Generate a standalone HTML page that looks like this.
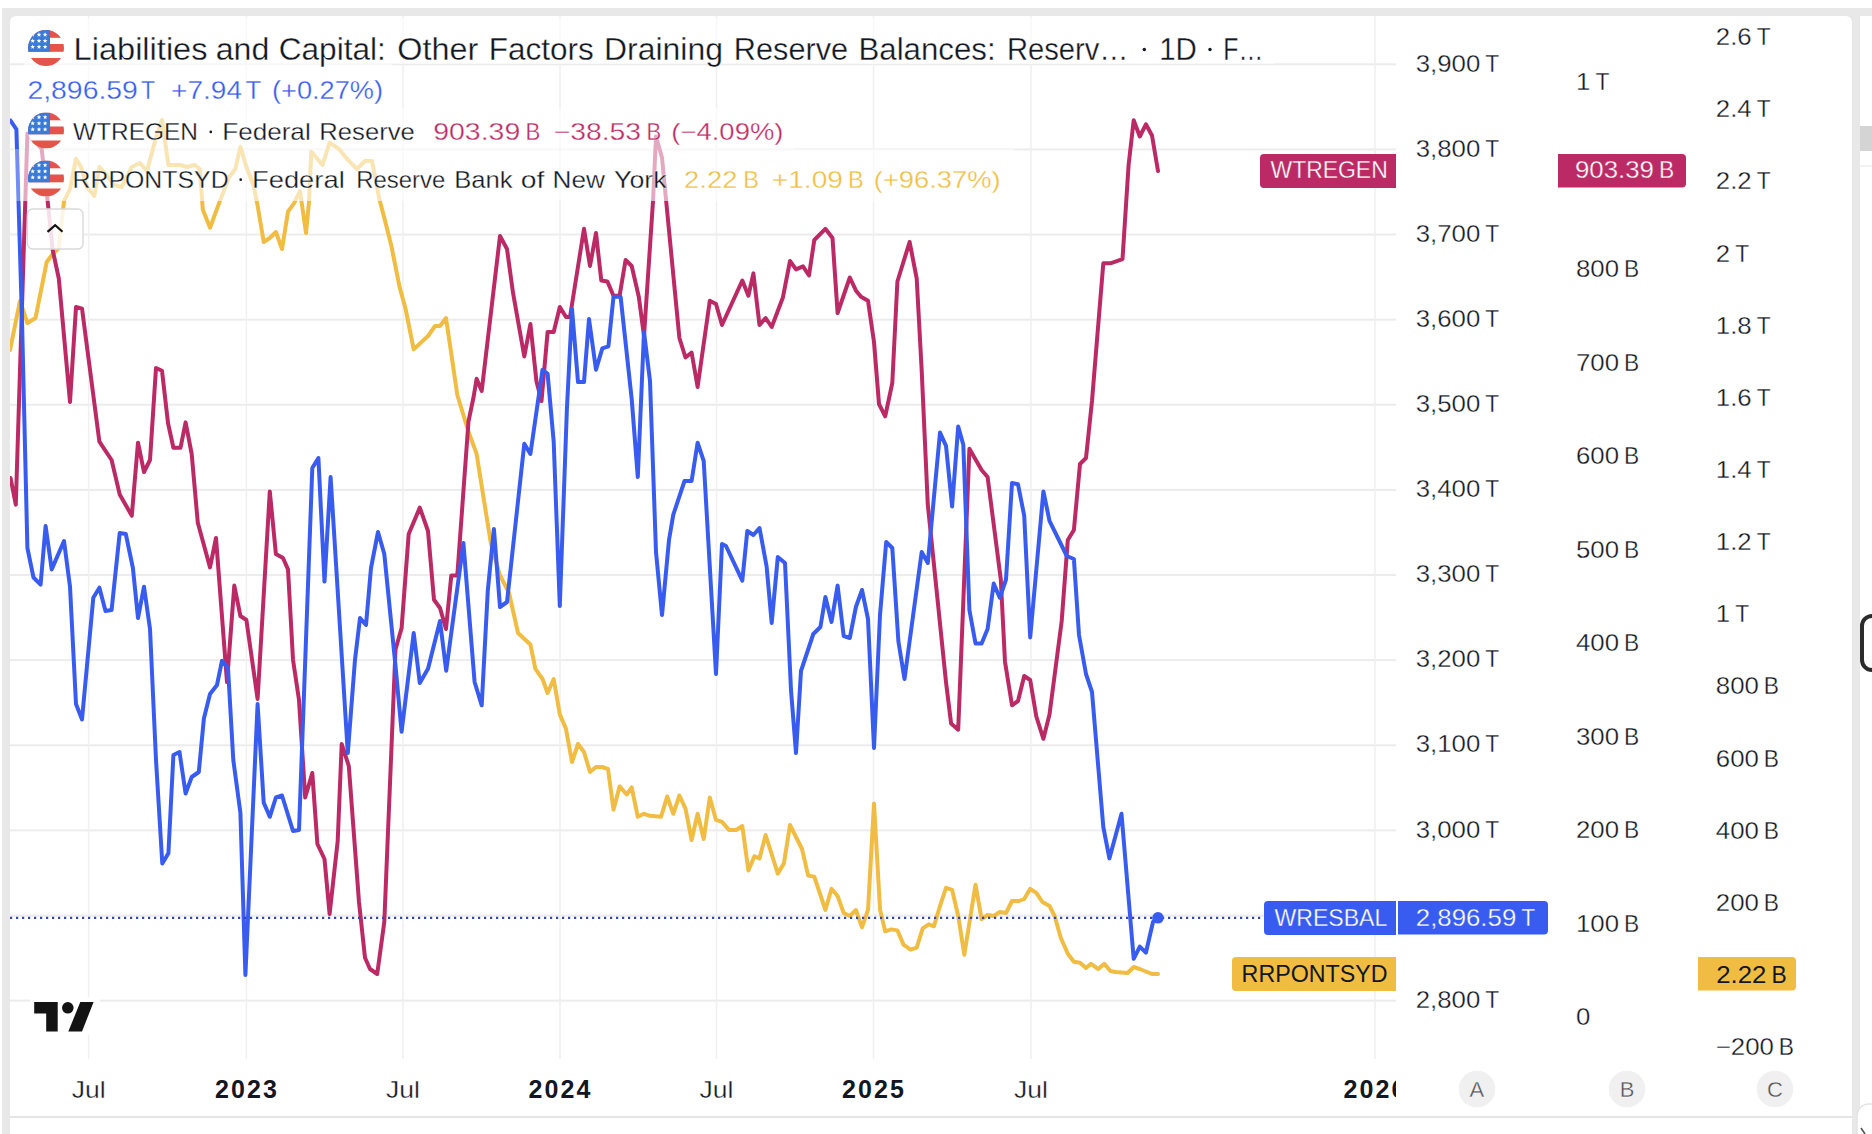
<!DOCTYPE html><html><head><meta charset="utf-8"><title>chart</title><style>html,body{margin:0;padding:0;background:#fff;overflow:hidden}svg{display:block}text{font-family:"Liberation Sans",sans-serif;white-space:pre}</style></head><body>
<svg width="1872" height="1134" viewBox="0 0 1872 1134">
<defs><clipPath id="pane"><rect x="10" y="16" width="1386" height="1043"/></clipPath><clipPath id="flagc"><circle cx="0" cy="0" r="18"/></clipPath><clipPath id="tclip"><rect x="10" y="1060" width="1386" height="56"/></clipPath></defs>
<rect x="0" y="0" width="1872" height="1134" fill="#fff"/>
<rect x="2" y="8" width="1858" height="1126" fill="#e8e8e8"/>
<rect x="10" y="16" width="1842" height="1130" rx="6" ry="6" fill="#fff"/>
<rect x="10" y="1116" width="1842" height="2" fill="#e6e6e6"/>
<rect x="1852" y="8" width="20" height="8" fill="#e8e8e8"/>
<rect x="1860" y="16" width="30" height="1130" rx="6" ry="6" fill="#fff"/>
<rect x="1860" y="126" width="12" height="25" fill="#d4d4d4"/>
<rect x="1860" y="165.5" width="12" height="1" fill="#e6e6e6"/>
<rect x="1862" y="616" width="24" height="54" rx="10" ry="10" fill="none" stroke="#2b2b2b" stroke-width="4"/>
<rect x="1857" y="1104" width="30" height="40" rx="12" ry="12" fill="#fff" stroke="#e4e4e4" stroke-width="1.5"/>
<line x1="1861" y1="1128" x2="1865" y2="1134" stroke="#555" stroke-width="1.6"/>
<rect x="10" y="63.30" width="1386" height="2" fill="#ececec"/>
<rect x="10" y="148.42" width="1386" height="2" fill="#ececec"/>
<rect x="10" y="233.54" width="1386" height="2" fill="#ececec"/>
<rect x="10" y="318.66" width="1386" height="2" fill="#ececec"/>
<rect x="10" y="403.78" width="1386" height="2" fill="#ececec"/>
<rect x="10" y="488.90" width="1386" height="2" fill="#ececec"/>
<rect x="10" y="574.02" width="1386" height="2" fill="#ececec"/>
<rect x="10" y="659.14" width="1386" height="2" fill="#ececec"/>
<rect x="10" y="744.26" width="1386" height="2" fill="#ececec"/>
<rect x="10" y="829.38" width="1386" height="2" fill="#ececec"/>
<rect x="10" y="914.50" width="1386" height="2" fill="#ececec"/>
<rect x="10" y="999.62" width="1386" height="2" fill="#ececec"/>
<rect x="87.85" y="16" width="1.5" height="1043" fill="#f0f0f0"/>
<rect x="245.65" y="16" width="1.5" height="1043" fill="#f0f0f0"/>
<rect x="402.25" y="16" width="1.5" height="1043" fill="#f0f0f0"/>
<rect x="559.25" y="16" width="1.5" height="1043" fill="#f0f0f0"/>
<rect x="715.75" y="16" width="1.5" height="1043" fill="#f0f0f0"/>
<rect x="872.75" y="16" width="1.5" height="1043" fill="#f0f0f0"/>
<rect x="1030.25" y="16" width="1.5" height="1043" fill="#f0f0f0"/>
<rect x="1374.25" y="16" width="1.5" height="1043" fill="#f0f0f0"/>
<g clip-path="url(#pane)" fill="none" stroke-width="4" stroke-linejoin="round" stroke-linecap="round">
<polyline points="10.0,350.0 20.0,301.0 27.4,323.0 35.5,318.0 46.7,262.0 52.7,254.0 58.8,248.0 64.0,201.4 70.0,189.0 76.0,158.8 81.0,167.0 87.0,187.0 94.3,196.0 99.4,167.0 107.5,176.0 113.6,185.0 121.7,187.0 131.8,167.0 140.0,163.0 147.0,171.0 156.0,137.5 162.0,120.0 168.4,165.0 174.4,165.0 180.5,165.0 186.6,167.0 194.7,165.0 199.8,169.0 202.8,209.5 210.0,227.8 219.0,203.4 229.2,177.0 235.3,169.0 240.4,146.7 246.4,167.0 253.5,185.0 257.6,205.5 263.7,242.0 269.8,238.0 275.9,232.0 282.0,249.0 288.0,211.6 294.0,203.4 300.0,191.0 306.0,233.0 309.0,202.0 311.3,151.7 322.5,165.0 329.6,142.6 338.7,148.7 348.8,160.9 357.0,169.0 365.0,160.9 372.0,160.9 379.0,197.4 385.3,221.7 391.4,246.0 399.5,286.6 405.6,309.0 413.7,349.4 428.0,336.0 435.0,326.0 440.0,326.0 446.0,318.0 452.3,360.6 457.3,395.0 468.5,431.6 476.6,453.9 482.7,492.4 490.8,543.0 500.0,575.5 509.0,592.7 518.0,633.0 530.4,644.5 535.4,668.8 542.5,679.0 547.6,693.0 553.7,679.0 559.8,714.4 565.9,728.6 572.0,762.0 578.0,744.0 584.0,752.0 590.0,772.0 596.0,767.0 602.0,767.0 608.0,769.0 613.5,809.7 619.6,786.4 626.7,794.5 631.7,787.4 637.8,816.8 643.9,813.8 650.0,815.8 661.0,816.8 667.2,796.5 673.3,813.8 679.4,795.5 685.5,808.7 691.6,840.0 697.6,813.8 703.7,839.0 709.8,797.5 715.9,819.8 722.0,821.9 729.0,830.0 736.2,830.0 742.3,826.0 748.4,870.5 754.4,856.3 759.5,858.4 765.6,835.0 777.8,873.6 783.9,863.4 790.0,825.0 802.0,849.0 808.2,875.6 814.3,876.6 825.4,910.0 831.5,888.8 837.6,896.0 843.7,913.0 849.8,916.0 855.9,910.0 862.0,927.3 868.0,910.0 874.0,803.6 880.1,910.0 885.2,931.4 891.3,929.4 897.4,930.4 903.5,944.6 910.6,949.7 916.7,947.6 922.7,928.4 928.8,924.3 933.9,926.3 940.0,906.0 946.0,887.8 952.1,889.8 958.2,916.0 964.3,954.7 975.5,884.7 981.6,919.2 987.6,915.0 993.7,916.0 999.8,912.0 1006.0,913.0 1012.0,901.0 1019.0,901.0 1024.2,899.0 1030.2,888.8 1036.3,892.9 1042.4,902.0 1049.5,906.0 1054.6,916.0 1060.7,937.5 1067.8,953.7 1073.9,961.8 1080.0,962.8 1086.0,968.0 1091.0,963.9 1098.2,969.0 1104.3,963.9 1110.4,971.0 1115.4,972.0 1127.6,973.0 1133.7,967.0 1139.8,969.0 1152.0,974.0 1158.0,974.0" stroke="#f0bd42"/>
<polyline points="10.5,478.0 15.8,504.6 27.4,133.5 41.6,148.7 47.7,201.4 52.7,250.0 58.8,278.5 70.0,402.0 76.0,307.0 82.0,308.6 99.4,441.7 111.6,460.0 119.7,494.4 131.8,515.7 138.0,442.7 144.0,472.0 150.0,460.0 156.0,368.0 162.0,370.7 168.0,423.0 173.4,447.8 180.5,447.8 185.6,422.4 191.7,454.0 197.8,522.8 210.0,567.4 216.0,538.0 227.0,682.0 234.3,585.6 240.4,616.0 246.4,620.0 257.6,699.0 269.8,491.4 275.9,554.0 283.0,558.0 288.0,569.4 293.0,659.7 299.0,700.0 305.2,797.5 312.3,773.0 317.4,844.0 324.5,859.0 329.6,914.0 337.7,841.0 341.7,744.0 348.8,766.0 359.0,902.0 365.0,957.8 370.0,969.0 377.2,974.0 384.3,922.0 395.5,649.5 401.6,628.0 408.7,534.0 419.8,507.6 428.0,531.0 434.0,599.8 440.0,608.0 446.0,629.0 451.3,575.5 457.3,575.5 468.5,421.4 473.6,397.0 476.6,378.8 481.7,391.0 500.0,236.0 507.0,249.0 513.0,292.7 524.3,356.5 530.4,324.0 536.4,381.0 541.5,401.0 547.6,332.0 553.7,332.0 559.8,307.0 566.0,317.0 570.0,317.0 584.0,228.8 590.0,266.0 596.0,233.0 601.3,280.5 607.4,281.5 613.5,295.7 619.6,295.7 625.6,260.0 631.7,266.0 638.8,296.8 644.0,336.0 653.0,201.4 656.0,136.5 662.0,157.8 666.2,201.4 679.4,338.0 685.5,357.5 691.6,352.5 697.6,387.0 709.8,300.8 716.0,304.0 722.0,325.0 742.3,280.5 748.4,295.7 753.4,273.4 759.5,325.0 765.6,318.0 771.7,327.0 782.8,297.8 790.0,261.0 796.0,269.4 803.0,266.3 809.0,275.5 814.3,240.0 825.4,228.8 832.5,238.0 837.6,313.0 849.8,277.5 856.0,290.7 861.0,296.8 868.0,300.8 874.0,342.0 879.0,404.0 885.2,416.3 892.3,383.0 897.4,281.5 909.6,242.0 916.7,278.5 921.7,370.7 927.8,504.6 946.0,682.0 951.1,723.6 958.2,729.7 969.4,448.8 981.6,470.0 987.6,477.0 1000.8,579.5 1005.0,661.7 1012.0,705.3 1018.0,701.0 1024.2,676.0 1030.2,680.0 1036.3,716.5 1043.4,738.8 1049.5,714.4 1061.7,621.0 1067.8,540.0 1073.9,530.0 1080.0,464.0 1086.0,458.0 1092.0,401.0 1103.3,263.3 1110.4,263.3 1122.5,259.2 1128.6,165.0 1133.7,120.3 1139.8,136.5 1145.9,124.3 1152.0,135.5 1158.0,171.0" stroke="#bc2a65"/>
<polyline points="10.5,120.5 16.4,129.4 22.0,320.0 27.4,548.0 33.5,577.5 40.6,584.6 45.6,526.0 51.7,569.4 64.0,541.0 70.0,586.7 76.0,704.0 82.0,719.5 93.3,597.8 99.4,587.7 105.5,611.0 111.6,610.0 119.7,533.0 125.8,534.0 132.9,568.0 138.0,618.0 144.0,586.7 150.0,629.0 156.0,760.0 162.3,863.5 168.4,853.3 173.4,755.0 179.5,752.0 185.6,793.5 191.7,777.0 198.8,772.0 203.9,718.5 210.0,694.0 217.0,685.0 222.0,660.7 228.0,667.8 233.3,760.0 240.4,812.7 245.4,975.0 257.6,704.0 263.7,802.6 269.8,816.8 275.9,797.5 282.0,795.5 293.0,831.0 299.0,830.0 312.3,468.0 318.4,458.0 324.5,581.6 330.6,477.0 347.8,753.0 355.0,659.7 360.0,618.0 366.0,625.0 371.0,568.0 378.0,532.0 384.3,554.0 395.5,665.8 401.6,731.7 413.7,633.0 419.8,683.0 428.0,668.8 440.0,621.0 446.2,670.8 463.4,543.0 474.6,682.0 481.7,705.3 487.8,590.7 493.9,529.0 500.0,607.0 507.0,602.0 524.3,443.7 530.4,454.0 542.5,369.7 547.6,373.8 553.7,441.7 559.8,606.0 566.9,409.0 572.0,309.0 578.0,382.0 584.0,382.0 589.0,319.0 596.0,369.7 602.3,348.4 608.4,346.4 613.5,296.8 620.6,296.8 631.7,399.0 637.8,477.0 644.0,332.0 650.0,381.0 656.0,552.0 662.0,615.0 669.0,540.0 673.3,514.7 684.5,481.0 691.6,481.0 697.6,442.7 703.7,461.0 716.0,674.0 722.0,544.0 726.0,546.0 742.3,580.6 747.3,531.0 753.4,535.0 759.5,528.0 766.6,566.4 771.7,623.0 777.8,557.0 785.0,563.0 791.0,690.0 796.0,753.0 801.0,671.0 813.3,634.0 820.4,627.0 825.4,597.0 831.5,622.0 837.6,585.6 843.7,636.0 849.8,638.0 855.9,607.0 862.0,590.0 868.0,619.0 874.0,748.0 880.0,615.0 886.2,542.0 892.3,548.0 898.4,641.4 904.5,679.0 921.7,552.0 927.8,563.0 940.0,432.6 946.0,445.8 952.1,506.6 958.2,426.5 963.3,444.7 969.4,610.0 975.5,643.4 981.6,643.4 987.6,629.0 993.7,583.6 999.8,597.8 1006.0,579.5 1012.0,483.0 1018.0,484.3 1024.2,515.7 1030.2,637.4 1043.4,491.4 1049.5,520.8 1066.8,556.0 1073.9,559.0 1079.0,635.0 1086.0,674.0 1092.0,692.0 1103.3,827.0 1109.4,858.4 1121.5,813.8 1133.7,958.8 1139.8,946.6 1145.9,952.7 1153.0,922.0 1158.0,917.0" stroke="#385cf0"/>
</g>
<line x1="10" y1="917.8" x2="1264" y2="917.8" stroke="#2f45b8" stroke-width="2.2" stroke-dasharray="2.2 3.8"/>
<circle cx="1158" cy="917.8" r="5.8" fill="#385cf0"/>
<rect x="24" y="18" width="1250" height="46" fill="#fff" fill-opacity="0.6"/>
<rect x="24" y="64" width="368" height="44" fill="#fff" fill-opacity="0.6"/>
<rect x="20" y="108" width="774" height="41" fill="#fff" fill-opacity="0.6"/>
<rect x="10" y="149" width="10" height="52" fill="#fff" fill-opacity="0.3"/><rect x="20" y="149" width="994" height="52" fill="#fff" fill-opacity="0.6"/>
<g transform="translate(46,48)"><g clip-path="url(#flagc)"><rect x="-18" y="-18" width="36" height="36" fill="#fff"/><rect x="-18" y="-18" width="36" height="7.8" fill="#e5534b"/><rect x="-18" y="-4" width="36" height="7.8" fill="#e5534b"/><rect x="-18" y="10" width="36" height="8.0" fill="#e5534b"/><rect x="-18" y="-18" width="22" height="21.8" fill="#3a7ad9"/><polygon points="-13.30,-15.70 -12.67,-14.17 -11.02,-14.04 -12.27,-12.97 -11.89,-11.36 -13.30,-12.22 -14.71,-11.36 -14.33,-12.97 -15.58,-14.04 -13.93,-14.17" fill="#fff"/><polygon points="-7.00,-15.70 -6.37,-14.17 -4.72,-14.04 -5.97,-12.97 -5.59,-11.36 -7.00,-12.22 -8.41,-11.36 -8.03,-12.97 -9.28,-14.04 -7.63,-14.17" fill="#fff"/><polygon points="-0.90,-15.70 -0.27,-14.17 1.38,-14.04 0.13,-12.97 0.51,-11.36 -0.90,-12.22 -2.31,-11.36 -1.93,-12.97 -3.18,-14.04 -1.53,-14.17" fill="#fff"/><polygon points="-13.30,-9.60 -12.67,-8.07 -11.02,-7.94 -12.27,-6.87 -11.89,-5.26 -13.30,-6.12 -14.71,-5.26 -14.33,-6.87 -15.58,-7.94 -13.93,-8.07" fill="#fff"/><polygon points="-7.00,-9.60 -6.37,-8.07 -4.72,-7.94 -5.97,-6.87 -5.59,-5.26 -7.00,-6.12 -8.41,-5.26 -8.03,-6.87 -9.28,-7.94 -7.63,-8.07" fill="#fff"/><polygon points="-0.90,-9.60 -0.27,-8.07 1.38,-7.94 0.13,-6.87 0.51,-5.26 -0.90,-6.12 -2.31,-5.26 -1.93,-6.87 -3.18,-7.94 -1.53,-8.07" fill="#fff"/><polygon points="-13.30,-3.50 -12.67,-1.97 -11.02,-1.84 -12.27,-0.77 -11.89,0.84 -13.30,-0.02 -14.71,0.84 -14.33,-0.77 -15.58,-1.84 -13.93,-1.97" fill="#fff"/><polygon points="-7.00,-3.50 -6.37,-1.97 -4.72,-1.84 -5.97,-0.77 -5.59,0.84 -7.00,-0.02 -8.41,0.84 -8.03,-0.77 -9.28,-1.84 -7.63,-1.97" fill="#fff"/><polygon points="-0.90,-3.50 -0.27,-1.97 1.38,-1.84 0.13,-0.77 0.51,0.84 -0.90,-0.02 -2.31,0.84 -1.93,-0.77 -3.18,-1.84 -1.53,-1.97" fill="#fff"/></g></g>
<g transform="translate(46,130.5)"><g clip-path="url(#flagc)"><rect x="-18" y="-18" width="36" height="36" fill="#fff"/><rect x="-18" y="-18" width="36" height="7.8" fill="#e5534b"/><rect x="-18" y="-4" width="36" height="7.8" fill="#e5534b"/><rect x="-18" y="10" width="36" height="8.0" fill="#e5534b"/><rect x="-18" y="-18" width="22" height="21.8" fill="#3a7ad9"/><polygon points="-13.30,-15.70 -12.67,-14.17 -11.02,-14.04 -12.27,-12.97 -11.89,-11.36 -13.30,-12.22 -14.71,-11.36 -14.33,-12.97 -15.58,-14.04 -13.93,-14.17" fill="#fff"/><polygon points="-7.00,-15.70 -6.37,-14.17 -4.72,-14.04 -5.97,-12.97 -5.59,-11.36 -7.00,-12.22 -8.41,-11.36 -8.03,-12.97 -9.28,-14.04 -7.63,-14.17" fill="#fff"/><polygon points="-0.90,-15.70 -0.27,-14.17 1.38,-14.04 0.13,-12.97 0.51,-11.36 -0.90,-12.22 -2.31,-11.36 -1.93,-12.97 -3.18,-14.04 -1.53,-14.17" fill="#fff"/><polygon points="-13.30,-9.60 -12.67,-8.07 -11.02,-7.94 -12.27,-6.87 -11.89,-5.26 -13.30,-6.12 -14.71,-5.26 -14.33,-6.87 -15.58,-7.94 -13.93,-8.07" fill="#fff"/><polygon points="-7.00,-9.60 -6.37,-8.07 -4.72,-7.94 -5.97,-6.87 -5.59,-5.26 -7.00,-6.12 -8.41,-5.26 -8.03,-6.87 -9.28,-7.94 -7.63,-8.07" fill="#fff"/><polygon points="-0.90,-9.60 -0.27,-8.07 1.38,-7.94 0.13,-6.87 0.51,-5.26 -0.90,-6.12 -2.31,-5.26 -1.93,-6.87 -3.18,-7.94 -1.53,-8.07" fill="#fff"/><polygon points="-13.30,-3.50 -12.67,-1.97 -11.02,-1.84 -12.27,-0.77 -11.89,0.84 -13.30,-0.02 -14.71,0.84 -14.33,-0.77 -15.58,-1.84 -13.93,-1.97" fill="#fff"/><polygon points="-7.00,-3.50 -6.37,-1.97 -4.72,-1.84 -5.97,-0.77 -5.59,0.84 -7.00,-0.02 -8.41,0.84 -8.03,-0.77 -9.28,-1.84 -7.63,-1.97" fill="#fff"/><polygon points="-0.90,-3.50 -0.27,-1.97 1.38,-1.84 0.13,-0.77 0.51,0.84 -0.90,-0.02 -2.31,0.84 -1.93,-0.77 -3.18,-1.84 -1.53,-1.97" fill="#fff"/></g></g>
<g transform="translate(46,178.5)"><g clip-path="url(#flagc)"><rect x="-18" y="-18" width="36" height="36" fill="#fff"/><rect x="-18" y="-18" width="36" height="7.8" fill="#e5534b"/><rect x="-18" y="-4" width="36" height="7.8" fill="#e5534b"/><rect x="-18" y="10" width="36" height="8.0" fill="#e5534b"/><rect x="-18" y="-18" width="22" height="21.8" fill="#3a7ad9"/><polygon points="-13.30,-15.70 -12.67,-14.17 -11.02,-14.04 -12.27,-12.97 -11.89,-11.36 -13.30,-12.22 -14.71,-11.36 -14.33,-12.97 -15.58,-14.04 -13.93,-14.17" fill="#fff"/><polygon points="-7.00,-15.70 -6.37,-14.17 -4.72,-14.04 -5.97,-12.97 -5.59,-11.36 -7.00,-12.22 -8.41,-11.36 -8.03,-12.97 -9.28,-14.04 -7.63,-14.17" fill="#fff"/><polygon points="-0.90,-15.70 -0.27,-14.17 1.38,-14.04 0.13,-12.97 0.51,-11.36 -0.90,-12.22 -2.31,-11.36 -1.93,-12.97 -3.18,-14.04 -1.53,-14.17" fill="#fff"/><polygon points="-13.30,-9.60 -12.67,-8.07 -11.02,-7.94 -12.27,-6.87 -11.89,-5.26 -13.30,-6.12 -14.71,-5.26 -14.33,-6.87 -15.58,-7.94 -13.93,-8.07" fill="#fff"/><polygon points="-7.00,-9.60 -6.37,-8.07 -4.72,-7.94 -5.97,-6.87 -5.59,-5.26 -7.00,-6.12 -8.41,-5.26 -8.03,-6.87 -9.28,-7.94 -7.63,-8.07" fill="#fff"/><polygon points="-0.90,-9.60 -0.27,-8.07 1.38,-7.94 0.13,-6.87 0.51,-5.26 -0.90,-6.12 -2.31,-5.26 -1.93,-6.87 -3.18,-7.94 -1.53,-8.07" fill="#fff"/><polygon points="-13.30,-3.50 -12.67,-1.97 -11.02,-1.84 -12.27,-0.77 -11.89,0.84 -13.30,-0.02 -14.71,0.84 -14.33,-0.77 -15.58,-1.84 -13.93,-1.97" fill="#fff"/><polygon points="-7.00,-3.50 -6.37,-1.97 -4.72,-1.84 -5.97,-0.77 -5.59,0.84 -7.00,-0.02 -8.41,0.84 -8.03,-0.77 -9.28,-1.84 -7.63,-1.97" fill="#fff"/><polygon points="-0.90,-3.50 -0.27,-1.97 1.38,-1.84 0.13,-0.77 0.51,0.84 -0.90,-0.02 -2.31,0.84 -1.93,-0.77 -3.18,-1.84 -1.53,-1.97" fill="#fff"/></g></g>
<text x="73.60" y="59.70" font-size="31" fill="#131722" stroke="#fff" stroke-width="0.3" textLength="133.91" lengthAdjust="spacingAndGlyphs">Liabilities</text><text x="215.70" y="59.70" font-size="31" fill="#131722" stroke="#fff" stroke-width="0.3" textLength="53.67" lengthAdjust="spacingAndGlyphs">and</text><text x="278.70" y="59.70" font-size="31" fill="#131722" stroke="#fff" stroke-width="0.3" textLength="107.18" lengthAdjust="spacingAndGlyphs">Capital:</text><text x="397.30" y="59.70" font-size="31" fill="#131722" stroke="#fff" stroke-width="0.3" textLength="81.03" lengthAdjust="spacingAndGlyphs">Other</text><text x="488.70" y="59.70" font-size="31" fill="#131722" stroke="#fff" stroke-width="0.3" textLength="104.98" lengthAdjust="spacingAndGlyphs">Factors</text><text x="604.00" y="59.70" font-size="31" fill="#131722" stroke="#fff" stroke-width="0.3" textLength="118.94" lengthAdjust="spacingAndGlyphs">Draining</text><text x="733.80" y="59.70" font-size="31" fill="#131722" stroke="#fff" stroke-width="0.3" textLength="114.36" lengthAdjust="spacingAndGlyphs">Reserve</text><text x="858.50" y="59.70" font-size="31" fill="#131722" stroke="#fff" stroke-width="0.3" textLength="137.11" lengthAdjust="spacingAndGlyphs">Balances:</text><text x="1007.00" y="59.70" font-size="31" fill="#131722" stroke="#fff" stroke-width="0.3" textLength="121.54" lengthAdjust="spacingAndGlyphs">Reserv…</text><circle cx="1144.30" cy="49.47" r="1.71" fill="#131722"/><text x="1159.20" y="59.70" font-size="31" fill="#131722" stroke="#fff" stroke-width="0.3" textLength="37.70" lengthAdjust="spacingAndGlyphs">1D</text><circle cx="1210.00" cy="49.47" r="1.71" fill="#131722"/><text x="1223.30" y="59.70" font-size="31" fill="#131722" stroke="#fff" stroke-width="0.3" textLength="39.95" lengthAdjust="spacingAndGlyphs">F…</text>
<text x="27.40" y="98.70" font-size="25" fill="#385cf0" stroke="#fff" stroke-width="0.3" textLength="110.53" lengthAdjust="spacingAndGlyphs">2,896.59</text><text x="141.10" y="98.70" font-size="25" fill="#385cf0" stroke="#fff" stroke-width="0.3" textLength="14.02" lengthAdjust="spacingAndGlyphs">T</text><text x="171.10" y="98.70" font-size="25" fill="#385cf0" stroke="#fff" stroke-width="0.3" textLength="70.91" lengthAdjust="spacingAndGlyphs">+7.94</text><text x="245.60" y="98.70" font-size="25" fill="#385cf0" stroke="#fff" stroke-width="0.3" textLength="15.72" lengthAdjust="spacingAndGlyphs">T</text><text x="272.00" y="98.70" font-size="25" fill="#385cf0" stroke="#fff" stroke-width="0.3" textLength="111.11" lengthAdjust="spacingAndGlyphs">(+0.27%)</text>
<text x="73.10" y="139.80" font-size="24" fill="#131722" stroke="#fff" stroke-width="0.3" textLength="124.94" lengthAdjust="spacingAndGlyphs">WTREGEN</text><circle cx="210.80" cy="131.88" r="1.32" fill="#131722"/><text x="222.20" y="139.80" font-size="24" fill="#131722" stroke="#fff" stroke-width="0.3" textLength="88.50" lengthAdjust="spacingAndGlyphs">Federal</text><text x="319.30" y="139.80" font-size="24" fill="#131722" stroke="#fff" stroke-width="0.3" textLength="95.59" lengthAdjust="spacingAndGlyphs">Reserve</text>
<text x="433.20" y="139.80" font-size="24" fill="#bc2a65" stroke="#fff" stroke-width="0.3" textLength="87.04" lengthAdjust="spacingAndGlyphs">903.39</text><text x="525.50" y="139.80" font-size="24" fill="#bc2a65" stroke="#fff" stroke-width="0.3" textLength="14.81" lengthAdjust="spacingAndGlyphs">B</text><text x="553.70" y="139.80" font-size="24" fill="#bc2a65" stroke="#fff" stroke-width="0.3" textLength="87.34" lengthAdjust="spacingAndGlyphs">−38.53</text><text x="646.60" y="139.80" font-size="24" fill="#bc2a65" stroke="#fff" stroke-width="0.3" textLength="14.71" lengthAdjust="spacingAndGlyphs">B</text><text x="671.30" y="139.80" font-size="24" fill="#bc2a65" stroke="#fff" stroke-width="0.3" textLength="112.16" lengthAdjust="spacingAndGlyphs">(−4.09%)</text>
<text x="72.50" y="187.60" font-size="24" fill="#131722" stroke="#fff" stroke-width="0.3" textLength="156.16" lengthAdjust="spacingAndGlyphs">RRPONTSYD</text><circle cx="240.70" cy="179.68" r="1.32" fill="#131722"/><text x="252.00" y="187.60" font-size="24" fill="#131722" stroke="#fff" stroke-width="0.3" textLength="92.70" lengthAdjust="spacingAndGlyphs">Federal</text><text x="356.20" y="187.60" font-size="24" fill="#131722" stroke="#fff" stroke-width="0.3" textLength="89.09" lengthAdjust="spacingAndGlyphs">Reserve</text><text x="454.20" y="187.60" font-size="24" fill="#131722" stroke="#fff" stroke-width="0.3" textLength="58.42" lengthAdjust="spacingAndGlyphs">Bank</text><text x="520.80" y="187.60" font-size="24" fill="#131722" stroke="#fff" stroke-width="0.3" textLength="23.57" lengthAdjust="spacingAndGlyphs">of</text><text x="552.50" y="187.60" font-size="24" fill="#131722" stroke="#fff" stroke-width="0.3" textLength="52.48" lengthAdjust="spacingAndGlyphs">New</text><text x="614.00" y="187.60" font-size="24" fill="#131722" stroke="#fff" stroke-width="0.3" textLength="52.58" lengthAdjust="spacingAndGlyphs">York</text>
<text x="684.10" y="187.60" font-size="24" fill="#f0bd42" stroke="#fff" stroke-width="0.3" textLength="53.26" lengthAdjust="spacingAndGlyphs">2.22</text><text x="743.20" y="187.60" font-size="24" fill="#f0bd42" stroke="#fff" stroke-width="0.3" textLength="15.71" lengthAdjust="spacingAndGlyphs">B</text><text x="771.80" y="187.60" font-size="24" fill="#f0bd42" stroke="#fff" stroke-width="0.3" textLength="71.17" lengthAdjust="spacingAndGlyphs">+1.09</text><text x="847.90" y="187.60" font-size="24" fill="#f0bd42" stroke="#fff" stroke-width="0.3" textLength="15.71" lengthAdjust="spacingAndGlyphs">B</text><text x="873.80" y="187.60" font-size="24" fill="#f0bd42" stroke="#fff" stroke-width="0.3" textLength="126.73" lengthAdjust="spacingAndGlyphs">(+96.37%)</text>
<rect x="27.5" y="209" width="55.5" height="40" rx="5" ry="5" fill="#fff" fill-opacity="0.85" stroke="#d9d9d9" stroke-width="1.4"/>
<polyline points="47.5,231.8 55.2,225.2 62.5,231.8" fill="none" stroke="#131313" stroke-width="2.2"/>
<rect x="30" y="997" width="70" height="38" fill="#fff"/>
<path d="M34.2,1002 H57.7 V1031.6 H46.2 V1013.6 H34.2 Z" fill="#131313"/>
<circle cx="67.8" cy="1007.8" r="5.8" fill="#131313"/>
<path d="M80.3,1002 H93.6 L82,1031.6 H68.3 Z" fill="#131313"/>
<text x="1415.70" y="71.50" font-size="24" fill="#131722" stroke="#fff" stroke-width="0.3" textLength="64.56" lengthAdjust="spacingAndGlyphs">3,900</text><text x="1485.20" y="71.50" font-size="24" fill="#131722" stroke="#fff" stroke-width="0.3" textLength="13.93" lengthAdjust="spacingAndGlyphs">T</text>
<text x="1415.70" y="156.62" font-size="24" fill="#131722" stroke="#fff" stroke-width="0.3" textLength="64.56" lengthAdjust="spacingAndGlyphs">3,800</text><text x="1485.20" y="156.62" font-size="24" fill="#131722" stroke="#fff" stroke-width="0.3" textLength="13.93" lengthAdjust="spacingAndGlyphs">T</text>
<text x="1415.70" y="241.74" font-size="24" fill="#131722" stroke="#fff" stroke-width="0.3" textLength="64.56" lengthAdjust="spacingAndGlyphs">3,700</text><text x="1485.20" y="241.74" font-size="24" fill="#131722" stroke="#fff" stroke-width="0.3" textLength="13.93" lengthAdjust="spacingAndGlyphs">T</text>
<text x="1415.70" y="326.86" font-size="24" fill="#131722" stroke="#fff" stroke-width="0.3" textLength="64.56" lengthAdjust="spacingAndGlyphs">3,600</text><text x="1485.20" y="326.86" font-size="24" fill="#131722" stroke="#fff" stroke-width="0.3" textLength="13.93" lengthAdjust="spacingAndGlyphs">T</text>
<text x="1415.70" y="411.98" font-size="24" fill="#131722" stroke="#fff" stroke-width="0.3" textLength="64.56" lengthAdjust="spacingAndGlyphs">3,500</text><text x="1485.20" y="411.98" font-size="24" fill="#131722" stroke="#fff" stroke-width="0.3" textLength="13.93" lengthAdjust="spacingAndGlyphs">T</text>
<text x="1415.70" y="497.10" font-size="24" fill="#131722" stroke="#fff" stroke-width="0.3" textLength="64.56" lengthAdjust="spacingAndGlyphs">3,400</text><text x="1485.20" y="497.10" font-size="24" fill="#131722" stroke="#fff" stroke-width="0.3" textLength="13.93" lengthAdjust="spacingAndGlyphs">T</text>
<text x="1415.70" y="582.22" font-size="24" fill="#131722" stroke="#fff" stroke-width="0.3" textLength="64.56" lengthAdjust="spacingAndGlyphs">3,300</text><text x="1485.20" y="582.22" font-size="24" fill="#131722" stroke="#fff" stroke-width="0.3" textLength="13.93" lengthAdjust="spacingAndGlyphs">T</text>
<text x="1415.70" y="667.34" font-size="24" fill="#131722" stroke="#fff" stroke-width="0.3" textLength="64.56" lengthAdjust="spacingAndGlyphs">3,200</text><text x="1485.20" y="667.34" font-size="24" fill="#131722" stroke="#fff" stroke-width="0.3" textLength="13.93" lengthAdjust="spacingAndGlyphs">T</text>
<text x="1415.70" y="752.46" font-size="24" fill="#131722" stroke="#fff" stroke-width="0.3" textLength="64.56" lengthAdjust="spacingAndGlyphs">3,100</text><text x="1485.20" y="752.46" font-size="24" fill="#131722" stroke="#fff" stroke-width="0.3" textLength="13.93" lengthAdjust="spacingAndGlyphs">T</text>
<text x="1415.70" y="837.58" font-size="24" fill="#131722" stroke="#fff" stroke-width="0.3" textLength="64.56" lengthAdjust="spacingAndGlyphs">3,000</text><text x="1485.20" y="837.58" font-size="24" fill="#131722" stroke="#fff" stroke-width="0.3" textLength="13.93" lengthAdjust="spacingAndGlyphs">T</text>
<text x="1415.70" y="1007.82" font-size="24" fill="#131722" stroke="#fff" stroke-width="0.3" textLength="64.56" lengthAdjust="spacingAndGlyphs">2,800</text><text x="1485.20" y="1007.82" font-size="24" fill="#131722" stroke="#fff" stroke-width="0.3" textLength="13.93" lengthAdjust="spacingAndGlyphs">T</text>
<text x="1576.00" y="90.10" font-size="24" fill="#131722" stroke="#fff" stroke-width="0.3" textLength="14.35" lengthAdjust="spacingAndGlyphs">1</text><text x="1595.38" y="90.10" font-size="24" fill="#131722" stroke="#fff" stroke-width="0.3" textLength="13.93" lengthAdjust="spacingAndGlyphs">T</text>
<text x="1576.00" y="277.10" font-size="24" fill="#131722" stroke="#fff" stroke-width="0.3" textLength="43.05" lengthAdjust="spacingAndGlyphs">800</text><text x="1624.00" y="277.10" font-size="24" fill="#131722" stroke="#fff" stroke-width="0.3" textLength="15.21" lengthAdjust="spacingAndGlyphs">B</text>
<text x="1576.00" y="370.60" font-size="24" fill="#131722" stroke="#fff" stroke-width="0.3" textLength="43.05" lengthAdjust="spacingAndGlyphs">700</text><text x="1624.00" y="370.60" font-size="24" fill="#131722" stroke="#fff" stroke-width="0.3" textLength="15.21" lengthAdjust="spacingAndGlyphs">B</text>
<text x="1576.00" y="464.10" font-size="24" fill="#131722" stroke="#fff" stroke-width="0.3" textLength="43.05" lengthAdjust="spacingAndGlyphs">600</text><text x="1624.00" y="464.10" font-size="24" fill="#131722" stroke="#fff" stroke-width="0.3" textLength="15.21" lengthAdjust="spacingAndGlyphs">B</text>
<text x="1576.00" y="557.60" font-size="24" fill="#131722" stroke="#fff" stroke-width="0.3" textLength="43.05" lengthAdjust="spacingAndGlyphs">500</text><text x="1624.00" y="557.60" font-size="24" fill="#131722" stroke="#fff" stroke-width="0.3" textLength="15.21" lengthAdjust="spacingAndGlyphs">B</text>
<text x="1576.00" y="651.10" font-size="24" fill="#131722" stroke="#fff" stroke-width="0.3" textLength="43.05" lengthAdjust="spacingAndGlyphs">400</text><text x="1624.00" y="651.10" font-size="24" fill="#131722" stroke="#fff" stroke-width="0.3" textLength="15.21" lengthAdjust="spacingAndGlyphs">B</text>
<text x="1576.00" y="744.60" font-size="24" fill="#131722" stroke="#fff" stroke-width="0.3" textLength="43.05" lengthAdjust="spacingAndGlyphs">300</text><text x="1624.00" y="744.60" font-size="24" fill="#131722" stroke="#fff" stroke-width="0.3" textLength="15.21" lengthAdjust="spacingAndGlyphs">B</text>
<text x="1576.00" y="838.10" font-size="24" fill="#131722" stroke="#fff" stroke-width="0.3" textLength="43.05" lengthAdjust="spacingAndGlyphs">200</text><text x="1624.00" y="838.10" font-size="24" fill="#131722" stroke="#fff" stroke-width="0.3" textLength="15.21" lengthAdjust="spacingAndGlyphs">B</text>
<text x="1576.00" y="931.60" font-size="24" fill="#131722" stroke="#fff" stroke-width="0.3" textLength="43.05" lengthAdjust="spacingAndGlyphs">100</text><text x="1624.00" y="931.60" font-size="24" fill="#131722" stroke="#fff" stroke-width="0.3" textLength="15.21" lengthAdjust="spacingAndGlyphs">B</text>
<text x="1576.00" y="1025.10" font-size="24" fill="#131722" stroke="#fff" stroke-width="0.3" textLength="14.35" lengthAdjust="spacingAndGlyphs">0</text>
<text x="1715.80" y="45.10" font-size="24" fill="#131722" stroke="#fff" stroke-width="0.3" textLength="35.87" lengthAdjust="spacingAndGlyphs">2.6</text><text x="1756.68" y="45.10" font-size="24" fill="#131722" stroke="#fff" stroke-width="0.3" textLength="13.93" lengthAdjust="spacingAndGlyphs">T</text>
<text x="1715.80" y="117.25" font-size="24" fill="#131722" stroke="#fff" stroke-width="0.3" textLength="35.87" lengthAdjust="spacingAndGlyphs">2.4</text><text x="1756.68" y="117.25" font-size="24" fill="#131722" stroke="#fff" stroke-width="0.3" textLength="13.93" lengthAdjust="spacingAndGlyphs">T</text>
<text x="1715.80" y="189.40" font-size="24" fill="#131722" stroke="#fff" stroke-width="0.3" textLength="35.87" lengthAdjust="spacingAndGlyphs">2.2</text><text x="1756.68" y="189.40" font-size="24" fill="#131722" stroke="#fff" stroke-width="0.3" textLength="13.93" lengthAdjust="spacingAndGlyphs">T</text>
<text x="1715.80" y="261.55" font-size="24" fill="#131722" stroke="#fff" stroke-width="0.3" textLength="14.35" lengthAdjust="spacingAndGlyphs">2</text><text x="1735.18" y="261.55" font-size="24" fill="#131722" stroke="#fff" stroke-width="0.3" textLength="13.93" lengthAdjust="spacingAndGlyphs">T</text>
<text x="1715.80" y="333.70" font-size="24" fill="#131722" stroke="#fff" stroke-width="0.3" textLength="35.87" lengthAdjust="spacingAndGlyphs">1.8</text><text x="1756.68" y="333.70" font-size="24" fill="#131722" stroke="#fff" stroke-width="0.3" textLength="13.93" lengthAdjust="spacingAndGlyphs">T</text>
<text x="1715.80" y="405.85" font-size="24" fill="#131722" stroke="#fff" stroke-width="0.3" textLength="35.87" lengthAdjust="spacingAndGlyphs">1.6</text><text x="1756.68" y="405.85" font-size="24" fill="#131722" stroke="#fff" stroke-width="0.3" textLength="13.93" lengthAdjust="spacingAndGlyphs">T</text>
<text x="1715.80" y="478.00" font-size="24" fill="#131722" stroke="#fff" stroke-width="0.3" textLength="35.87" lengthAdjust="spacingAndGlyphs">1.4</text><text x="1756.68" y="478.00" font-size="24" fill="#131722" stroke="#fff" stroke-width="0.3" textLength="13.93" lengthAdjust="spacingAndGlyphs">T</text>
<text x="1715.80" y="550.15" font-size="24" fill="#131722" stroke="#fff" stroke-width="0.3" textLength="35.87" lengthAdjust="spacingAndGlyphs">1.2</text><text x="1756.68" y="550.15" font-size="24" fill="#131722" stroke="#fff" stroke-width="0.3" textLength="13.93" lengthAdjust="spacingAndGlyphs">T</text>
<text x="1715.80" y="622.30" font-size="24" fill="#131722" stroke="#fff" stroke-width="0.3" textLength="14.35" lengthAdjust="spacingAndGlyphs">1</text><text x="1735.18" y="622.30" font-size="24" fill="#131722" stroke="#fff" stroke-width="0.3" textLength="13.93" lengthAdjust="spacingAndGlyphs">T</text>
<text x="1715.80" y="694.45" font-size="24" fill="#131722" stroke="#fff" stroke-width="0.3" textLength="43.05" lengthAdjust="spacingAndGlyphs">800</text><text x="1763.80" y="694.45" font-size="24" fill="#131722" stroke="#fff" stroke-width="0.3" textLength="15.21" lengthAdjust="spacingAndGlyphs">B</text>
<text x="1715.80" y="766.60" font-size="24" fill="#131722" stroke="#fff" stroke-width="0.3" textLength="43.05" lengthAdjust="spacingAndGlyphs">600</text><text x="1763.80" y="766.60" font-size="24" fill="#131722" stroke="#fff" stroke-width="0.3" textLength="15.21" lengthAdjust="spacingAndGlyphs">B</text>
<text x="1715.80" y="838.75" font-size="24" fill="#131722" stroke="#fff" stroke-width="0.3" textLength="43.05" lengthAdjust="spacingAndGlyphs">400</text><text x="1763.80" y="838.75" font-size="24" fill="#131722" stroke="#fff" stroke-width="0.3" textLength="15.21" lengthAdjust="spacingAndGlyphs">B</text>
<text x="1715.80" y="910.90" font-size="24" fill="#131722" stroke="#fff" stroke-width="0.3" textLength="43.05" lengthAdjust="spacingAndGlyphs">200</text><text x="1763.80" y="910.90" font-size="24" fill="#131722" stroke="#fff" stroke-width="0.3" textLength="15.21" lengthAdjust="spacingAndGlyphs">B</text>
<text x="1715.80" y="1055.20" font-size="24" fill="#131722" stroke="#fff" stroke-width="0.3" textLength="58.11" lengthAdjust="spacingAndGlyphs">−200</text><text x="1778.85" y="1055.20" font-size="24" fill="#131722" stroke="#fff" stroke-width="0.3" textLength="15.21" lengthAdjust="spacingAndGlyphs">B</text>
<path d="M1264,154 H1396 V188 H1264 A4,4 0 0 1 1260,184 V158 A4,4 0 0 1 1264,154 Z" fill="#bc2a65"/>
<text x="1270.50" y="178.30" font-size="24" fill="#fff" stroke="#bc2a65" stroke-width="0.3" textLength="117.23" lengthAdjust="spacingAndGlyphs">WTREGEN</text>
<path d="M1558,154 H1682 A4,4 0 0 1 1686,158 V183.6 A4,4 0 0 1 1682,187.6 H1558 Z" fill="#bc2a65"/>
<text x="1575.00" y="178.30" font-size="24" fill="#fff" stroke="#bc2a65" stroke-width="0.3" textLength="78.91" lengthAdjust="spacingAndGlyphs">903.39</text><text x="1658.88" y="178.30" font-size="24" fill="#fff" stroke="#bc2a65" stroke-width="0.3" textLength="15.21" lengthAdjust="spacingAndGlyphs">B</text>
<path d="M1268,901 H1396 V935 H1268 A4,4 0 0 1 1264,931 V905 A4,4 0 0 1 1268,901 Z" fill="#385cf0"/>
<text x="1274.50" y="925.60" font-size="24" fill="#fff" stroke="#385cf0" stroke-width="0.3" textLength="112.79" lengthAdjust="spacingAndGlyphs">WRESBAL</text>
<path d="M1398,901 H1544 A4,4 0 0 1 1548,905 V930.6 A4,4 0 0 1 1544,934.6 H1398 Z" fill="#385cf0"/>
<text x="1415.80" y="925.60" font-size="24" fill="#fff" stroke="#385cf0" stroke-width="0.3" textLength="100.43" lengthAdjust="spacingAndGlyphs">2,896.59</text><text x="1521.18" y="925.60" font-size="24" fill="#fff" stroke="#385cf0" stroke-width="0.3" textLength="13.93" lengthAdjust="spacingAndGlyphs">T</text>
<path d="M1236,957 H1396 V991 H1236 A4,4 0 0 1 1232,987 V961 A4,4 0 0 1 1236,957 Z" fill="#f0bd42"/>
<text x="1241.60" y="982.40" font-size="24" fill="#131722" textLength="146.05" lengthAdjust="spacingAndGlyphs">RRPONTSYD</text>
<path d="M1698,957 H1792 A4,4 0 0 1 1796,961 V986.6 A4,4 0 0 1 1792,990.6 H1698 Z" fill="#f0bd42"/>
<text x="1716.20" y="982.60" font-size="24" fill="#131722" textLength="50.21" lengthAdjust="spacingAndGlyphs">2.22</text><text x="1771.46" y="982.60" font-size="24" fill="#131722" textLength="15.21" lengthAdjust="spacingAndGlyphs">B</text>
<g clip-path="url(#tclip)">
<text x="71.70" y="1097.60" font-size="24" fill="#131722" stroke="#fff" stroke-width="0.3" textLength="33.86" lengthAdjust="spacingAndGlyphs">Jul</text>
<text x="214.90" y="1097.80" font-size="25" fill="#131722" font-weight="bold" textLength="61.99" lengthAdjust="spacing">2023</text>
<text x="386.10" y="1097.60" font-size="24" fill="#131722" stroke="#fff" stroke-width="0.3" textLength="33.86" lengthAdjust="spacingAndGlyphs">Jul</text>
<text x="528.50" y="1097.80" font-size="25" fill="#131722" font-weight="bold" textLength="61.99" lengthAdjust="spacing">2024</text>
<text x="699.60" y="1097.60" font-size="24" fill="#131722" stroke="#fff" stroke-width="0.3" textLength="33.86" lengthAdjust="spacingAndGlyphs">Jul</text>
<text x="842.00" y="1097.80" font-size="25" fill="#131722" font-weight="bold" textLength="61.99" lengthAdjust="spacing">2025</text>
<text x="1014.10" y="1097.60" font-size="24" fill="#131722" stroke="#fff" stroke-width="0.3" textLength="33.86" lengthAdjust="spacingAndGlyphs">Jul</text>
<text x="1343.50" y="1097.80" font-size="25" fill="#131722" font-weight="bold" textLength="61.99" lengthAdjust="spacing">2026</text>
</g>
<circle cx="1477" cy="1089" r="18.3" fill="#f0f0f0"/>
<text x="1469.62" y="1097.30" font-size="22" fill="#555" stroke="#fff" stroke-width="0.3" textLength="14.67" lengthAdjust="spacingAndGlyphs">A</text>
<circle cx="1627" cy="1089" r="18.3" fill="#f0f0f0"/>
<text x="1619.69" y="1097.30" font-size="22" fill="#555" stroke="#fff" stroke-width="0.3" textLength="14.67" lengthAdjust="spacingAndGlyphs">B</text>
<circle cx="1775" cy="1089" r="18.3" fill="#f0f0f0"/>
<text x="1767.06" y="1097.30" font-size="22" fill="#555" stroke="#fff" stroke-width="0.3" textLength="15.89" lengthAdjust="spacingAndGlyphs">C</text>
</svg></body></html>
